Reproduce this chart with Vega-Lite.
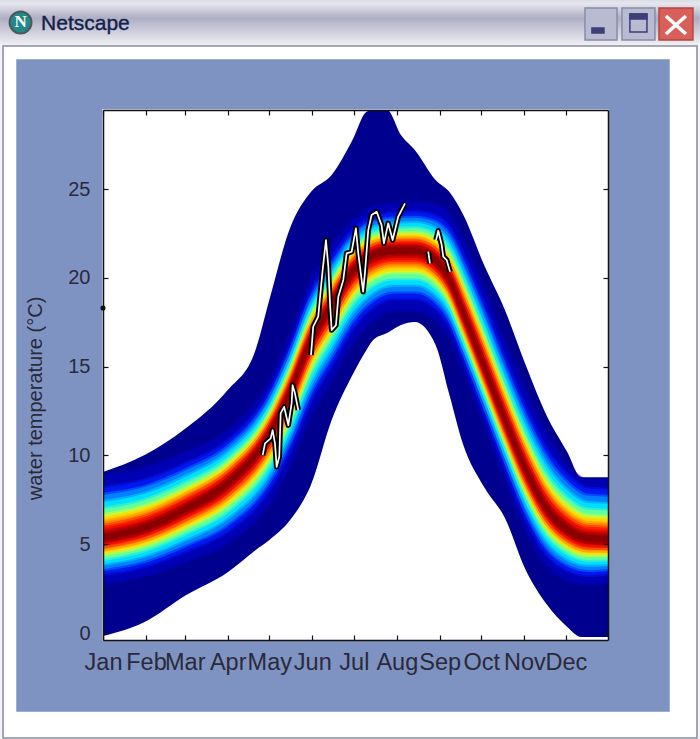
{"$schema":"https://vega.github.io/schema/vega-lite/v6.json","autosize":"none","width":505,"height":530,"padding":{"left":103,"top":110,"right":92,"bottom":99},"background":"#f4f4f8","config":{"axis":{"grid":false,"domainColor":"#111111","domainWidth":1.5,"tickColor":"#111111","tickWidth":1.2,"labelFont":"Liberation Sans","labelFontSize":21,"labelColor":"#2a2a3a","titleFont":"Liberation Sans"},"view":{"stroke":null}},"datasets":{"titlebar":[{"x0":-74.3,"x1":430.7,"y0":35.64,"y1":33.1}],"chrome":[{"part":"client","x0":-72.15,"x1":428.6,"y0":33.05,"y1":-5.91},{"part":"panel","x0":-62.05,"x1":408.4,"y0":32.26,"y1":-4.39},{"part":"plot","x0":0,"x1":364.4,"y0":29.45,"y1":-0.39},{"part":"bmin","x0":347.8,"x1":370.9,"y0":35.19,"y1":33.39},{"part":"bmax","x0":374.5,"x1":398.3,"y0":35.19,"y1":33.39},{"part":"bclose","x0":401.2,"x1":425.7,"y0":35.19,"y1":33.39},{"part":"gmin","x0":352.8,"x1":361.5,"y0":34.07,"y1":33.78},{"part":"gmax","x0":380.2,"x1":392.5,"y0":34.85,"y1":33.84},{"part":"gtop","x0":380.2,"x1":392.5,"y0":34.85,"y1":34.57}],"closex":[{"x0":406.2,"x1":420.6,"y0":34.74,"y1":33.73},{"x0":406.2,"x1":420.6,"y0":33.73,"y1":34.74}],"icon":[{"d":-59.5,"t":34.38,"label":"N"}],"wintitle":[{"d":-44.7,"t":34.3,"label":"Netscape"}],"outer":[{"d":0,"hi":9.07,"lo":-0.17},{"d":30,"hi":10.02,"lo":0.62},{"d":60,"hi":11.54,"lo":2.14},{"d":90,"hi":13.68,"lo":3.43},{"d":110,"hi":15.93,"lo":4.67},{"d":120,"hi":18.75,"lo":5.24},{"d":135,"hi":22.8,"lo":6.36},{"d":150,"hi":24.83,"lo":8.33},{"d":165,"hi":25.79,"lo":11.99},{"d":180,"hi":27.76,"lo":14.53},{"d":190,"hi":29.34,"lo":15.93},{"d":195,"hi":29.45,"lo":16.5},{"d":205,"hi":29.45,"lo":16.89},{"d":215,"hi":28.04,"lo":17.34},{"d":225,"hi":27.2,"lo":17.51},{"d":240,"hi":25.51,"lo":16.22},{"d":250,"hi":24.83,"lo":13.4},{"d":260,"hi":23.54,"lo":10.59},{"d":275,"hi":20.72,"lo":8.22},{"d":290,"hi":18.19,"lo":6.48},{"d":305,"hi":15.09,"lo":3.55},{"d":320,"hi":12.27,"lo":1.63},{"d":335,"hi":10.19,"lo":0.34},{"d":345,"hi":8.78,"lo":-0.22},{"d":364.4,"hi":8.78,"lo":-0.22}],"bands":[
{"d":0,"lev":"m","hi":8.88,"lo":2.81},{"d":0,"lev":"k","hi":8.17,"lo":3.32},{"d":0,"lev":"j","hi":7.78,"lo":3.6},{"d":0,"lev":"i","hi":7.38,"lo":3.89},{"d":0,"lev":"h","hi":6.99,"lo":4.17},{"d":0,"lev":"g","hi":6.65,"lo":4.42},{"d":0,"lev":"e","hi":6.48,"lo":4.54},{"d":0,"lev":"d","hi":6.25,"lo":4.7},{"d":0,"lev":"c","hi":6.03,"lo":4.86},{"d":0,"lev":"b","hi":5.8,"lo":5.03},{"d":0,"lev":"a","hi":5.58,"lo":5.19},
{"d":30,"lev":"m","hi":9.28,"lo":3.23},{"d":30,"lev":"k","hi":8.6,"lo":3.76},{"d":30,"lev":"j","hi":8.22,"lo":4.06},{"d":30,"lev":"i","hi":7.84,"lo":4.36},{"d":30,"lev":"h","hi":7.47,"lo":4.66},{"d":30,"lev":"g","hi":7.14,"lo":4.92},{"d":30,"lev":"e","hi":6.98,"lo":5.04},{"d":30,"lev":"d","hi":6.76,"lo":5.22},{"d":30,"lev":"c","hi":6.55,"lo":5.39},{"d":30,"lev":"b","hi":6.33,"lo":5.56},{"d":30,"lev":"a","hi":6.12,"lo":5.73},
{"d":60,"lev":"m","hi":10.16,"lo":4.05},{"d":60,"lev":"k","hi":9.53,"lo":4.64},{"d":60,"lev":"j","hi":9.18,"lo":4.97},{"d":60,"lev":"i","hi":8.82,"lo":5.3},{"d":60,"lev":"h","hi":8.47,"lo":5.63},{"d":60,"lev":"g","hi":8.16,"lo":5.91},{"d":60,"lev":"e","hi":8.01,"lo":6.06},{"d":60,"lev":"d","hi":7.81,"lo":6.24},{"d":60,"lev":"c","hi":7.61,"lo":6.43},{"d":60,"lev":"b","hi":7.4,"lo":6.62},{"d":60,"lev":"a","hi":7.2,"lo":6.81},
{"d":90,"lev":"m","hi":11.4,"lo":5.08},{"d":90,"lev":"k","hi":10.81,"lo":5.75},{"d":90,"lev":"j","hi":10.48,"lo":6.13},{"d":90,"lev":"i","hi":10.15,"lo":6.51},{"d":90,"lev":"h","hi":9.82,"lo":6.88},{"d":90,"lev":"g","hi":9.54,"lo":7.21},{"d":90,"lev":"e","hi":9.39,"lo":7.37},{"d":90,"lev":"d","hi":9.21,"lo":7.59},{"d":90,"lev":"c","hi":9.02,"lo":7.8},{"d":90,"lev":"b","hi":8.83,"lo":8.02},{"d":90,"lev":"a","hi":8.64,"lo":8.23},
{"d":120,"lev":"m","hi":14.15,"lo":7.33},{"d":120,"lev":"k","hi":13.56,"lo":8.1},{"d":120,"lev":"j","hi":13.23,"lo":8.53},{"d":120,"lev":"i","hi":12.9,"lo":8.97},{"d":120,"lev":"h","hi":12.57,"lo":9.4},{"d":120,"lev":"g","hi":12.29,"lo":9.77},{"d":120,"lev":"e","hi":12.14,"lo":9.96},{"d":120,"lev":"d","hi":11.96,"lo":10.21},{"d":120,"lev":"c","hi":11.77,"lo":10.46},{"d":120,"lev":"b","hi":11.58,"lo":10.7},{"d":120,"lev":"a","hi":11.39,"lo":10.95},
{"d":135,"lev":"m","hi":16.76,"lo":9.51},{"d":135,"lev":"k","hi":16.13,"lo":10.33},{"d":135,"lev":"j","hi":15.78,"lo":10.79},{"d":135,"lev":"i","hi":15.42,"lo":11.25},{"d":135,"lev":"h","hi":15.07,"lo":11.7},{"d":135,"lev":"g","hi":14.76,"lo":12.1},{"d":135,"lev":"e","hi":14.61,"lo":12.29},{"d":135,"lev":"d","hi":14.41,"lo":12.55},{"d":135,"lev":"c","hi":14.21,"lo":12.82},{"d":135,"lev":"b","hi":14.0,"lo":13.08},{"d":135,"lev":"a","hi":13.8,"lo":13.34},
{"d":150,"lev":"m","hi":19.88,"lo":12.28},{"d":150,"lev":"k","hi":19.2,"lo":13.12},{"d":150,"lev":"j","hi":18.82,"lo":13.59},{"d":150,"lev":"i","hi":18.44,"lo":14.07},{"d":150,"lev":"h","hi":18.07,"lo":14.54},{"d":150,"lev":"g","hi":17.74,"lo":14.95},{"d":150,"lev":"e","hi":17.58,"lo":15.15},{"d":150,"lev":"d","hi":17.36,"lo":15.42},{"d":150,"lev":"c","hi":17.15,"lo":15.69},{"d":150,"lev":"b","hi":16.93,"lo":15.96},{"d":150,"lev":"a","hi":16.72,"lo":16.23},
{"d":165,"lev":"m","hi":21.74,"lo":14.28},{"d":165,"lev":"k","hi":21.09,"lo":15.12},{"d":165,"lev":"j","hi":20.73,"lo":15.59},{"d":165,"lev":"i","hi":20.36,"lo":16.07},{"d":165,"lev":"h","hi":20.0,"lo":16.54},{"d":165,"lev":"g","hi":19.69,"lo":16.95},{"d":165,"lev":"e","hi":19.54,"lo":17.15},{"d":165,"lev":"d","hi":19.33,"lo":17.42},{"d":165,"lev":"c","hi":19.12,"lo":17.69},{"d":165,"lev":"b","hi":18.91,"lo":17.96},{"d":165,"lev":"a","hi":18.71,"lo":18.23},
{"d":180,"lev":"m","hi":23.21,"lo":16.31},{"d":180,"lev":"k","hi":22.65,"lo":17.13},{"d":180,"lev":"j","hi":22.34,"lo":17.59},{"d":180,"lev":"i","hi":22.02,"lo":18.05},{"d":180,"lev":"h","hi":21.71,"lo":18.5},{"d":180,"lev":"g","hi":21.44,"lo":18.9},{"d":180,"lev":"e","hi":21.3,"lo":19.09},{"d":180,"lev":"d","hi":21.12,"lo":19.35},{"d":180,"lev":"c","hi":20.94,"lo":19.62},{"d":180,"lev":"b","hi":20.76,"lo":19.88},{"d":180,"lev":"a","hi":20.58,"lo":20.14},
{"d":195,"lev":"m","hi":23.98,"lo":17.64},{"d":195,"lev":"k","hi":23.44,"lo":18.37},{"d":195,"lev":"j","hi":23.14,"lo":18.78},{"d":195,"lev":"i","hi":22.84,"lo":19.19},{"d":195,"lev":"h","hi":22.54,"lo":19.6},{"d":195,"lev":"g","hi":22.28,"lo":19.95},{"d":195,"lev":"e","hi":22.16,"lo":20.13},{"d":195,"lev":"d","hi":21.98,"lo":20.36},{"d":195,"lev":"c","hi":21.81,"lo":20.6},{"d":195,"lev":"b","hi":21.64,"lo":20.83},{"d":195,"lev":"a","hi":21.47,"lo":21.07},
{"d":210,"lev":"m","hi":24.15,"lo":18.18},{"d":210,"lev":"k","hi":23.63,"lo":18.85},{"d":210,"lev":"j","hi":23.34,"lo":19.23},{"d":210,"lev":"i","hi":23.05,"lo":19.61},{"d":210,"lev":"h","hi":22.76,"lo":19.98},{"d":210,"lev":"g","hi":22.51,"lo":20.31},{"d":210,"lev":"e","hi":22.38,"lo":20.47},{"d":210,"lev":"d","hi":22.22,"lo":20.69},{"d":210,"lev":"c","hi":22.05,"lo":20.9},{"d":210,"lev":"b","hi":21.88,"lo":21.12},{"d":210,"lev":"a","hi":21.72,"lo":21.33},
{"d":225,"lev":"m","hi":24.23,"lo":18.18},{"d":225,"lev":"k","hi":23.69,"lo":18.85},{"d":225,"lev":"j","hi":23.39,"lo":19.23},{"d":225,"lev":"i","hi":23.09,"lo":19.61},{"d":225,"lev":"h","hi":22.79,"lo":19.98},{"d":225,"lev":"g","hi":22.53,"lo":20.31},{"d":225,"lev":"e","hi":22.41,"lo":20.47},{"d":225,"lev":"d","hi":22.23,"lo":20.69},{"d":225,"lev":"c","hi":22.06,"lo":20.9},{"d":225,"lev":"b","hi":21.89,"lo":21.12},{"d":225,"lev":"a","hi":21.72,"lo":21.33},
{"d":240,"lev":"m","hi":24.1,"lo":17.63},{"d":240,"lev":"k","hi":23.48,"lo":18.3},{"d":240,"lev":"j","hi":23.13,"lo":18.68},{"d":240,"lev":"i","hi":22.79,"lo":19.06},{"d":240,"lev":"h","hi":22.44,"lo":19.43},{"d":240,"lev":"g","hi":22.14,"lo":19.76},{"d":240,"lev":"e","hi":21.99,"lo":19.92},{"d":240,"lev":"d","hi":21.79,"lo":20.14},{"d":240,"lev":"c","hi":21.6,"lo":20.35},{"d":240,"lev":"b","hi":21.4,"lo":20.57},{"d":240,"lev":"a","hi":21.2,"lo":20.78},
{"d":250,"lev":"m","hi":23.56,"lo":16.66},{"d":250,"lev":"k","hi":22.83,"lo":17.31},{"d":250,"lev":"j","hi":22.42,"lo":17.67},{"d":250,"lev":"i","hi":22.01,"lo":18.04},{"d":250,"lev":"h","hi":21.6,"lo":18.4},{"d":250,"lev":"g","hi":21.25,"lo":18.71},{"d":250,"lev":"e","hi":21.07,"lo":18.86},{"d":250,"lev":"d","hi":20.84,"lo":19.07},{"d":250,"lev":"c","hi":20.6,"lo":19.28},{"d":250,"lev":"b","hi":20.37,"lo":19.49},{"d":250,"lev":"a","hi":20.13,"lo":19.69},
{"d":260,"lev":"m","hi":22.09,"lo":14.84},{"d":260,"lev":"k","hi":21.27,"lo":15.47},{"d":260,"lev":"j","hi":20.81,"lo":15.82},{"d":260,"lev":"i","hi":20.35,"lo":16.18},{"d":260,"lev":"h","hi":19.9,"lo":16.53},{"d":260,"lev":"g","hi":19.5,"lo":16.84},{"d":260,"lev":"e","hi":19.31,"lo":16.99},{"d":260,"lev":"d","hi":19.05,"lo":17.19},{"d":260,"lev":"c","hi":18.78,"lo":17.39},{"d":260,"lev":"b","hi":18.52,"lo":17.6},{"d":260,"lev":"a","hi":18.26,"lo":17.8},
{"d":275,"lev":"m","hi":19.36,"lo":11.84},{"d":275,"lev":"k","hi":18.49,"lo":12.47},{"d":275,"lev":"j","hi":18.0,"lo":12.82},{"d":275,"lev":"i","hi":17.51,"lo":13.18},{"d":275,"lev":"h","hi":17.02,"lo":13.53},{"d":275,"lev":"g","hi":16.61,"lo":13.84},{"d":275,"lev":"e","hi":16.4,"lo":13.99},{"d":275,"lev":"d","hi":16.12,"lo":14.19},{"d":275,"lev":"c","hi":15.84,"lo":14.39},{"d":275,"lev":"b","hi":15.56,"lo":14.6},{"d":275,"lev":"a","hi":15.28,"lo":14.8},
{"d":290,"lev":"m","hi":16.36,"lo":8.76},{"d":290,"lev":"k","hi":15.49,"lo":9.41},{"d":290,"lev":"j","hi":15.0,"lo":9.77},{"d":290,"lev":"i","hi":14.51,"lo":10.14},{"d":290,"lev":"h","hi":14.02,"lo":10.5},{"d":290,"lev":"g","hi":13.61,"lo":10.81},{"d":290,"lev":"e","hi":13.4,"lo":10.96},{"d":290,"lev":"d","hi":13.12,"lo":11.17},{"d":290,"lev":"c","hi":12.84,"lo":11.38},{"d":290,"lev":"b","hi":12.56,"lo":11.59},{"d":290,"lev":"a","hi":12.28,"lo":11.79},
{"d":305,"lev":"m","hi":13.56,"lo":5.83},{"d":305,"lev":"k","hi":12.69,"lo":6.5},{"d":305,"lev":"j","hi":12.2,"lo":6.88},{"d":305,"lev":"i","hi":11.71,"lo":7.26},{"d":305,"lev":"h","hi":11.22,"lo":7.63},{"d":305,"lev":"g","hi":10.81,"lo":7.96},{"d":305,"lev":"e","hi":10.6,"lo":8.12},{"d":305,"lev":"d","hi":10.32,"lo":8.34},{"d":305,"lev":"c","hi":10.04,"lo":8.55},{"d":305,"lev":"b","hi":9.76,"lo":8.77},{"d":305,"lev":"a","hi":9.48,"lo":8.98},
{"d":320,"lev":"m","hi":11.23,"lo":3.84},{"d":320,"lev":"k","hi":10.38,"lo":4.47},{"d":320,"lev":"j","hi":9.91,"lo":4.82},{"d":320,"lev":"i","hi":9.43,"lo":5.18},{"d":320,"lev":"h","hi":8.96,"lo":5.53},{"d":320,"lev":"g","hi":8.55,"lo":5.84},{"d":320,"lev":"e","hi":8.35,"lo":5.99},{"d":320,"lev":"d","hi":8.08,"lo":6.19},{"d":320,"lev":"c","hi":7.81,"lo":6.39},{"d":320,"lev":"b","hi":7.54,"lo":6.6},{"d":320,"lev":"a","hi":7.27,"lo":6.8},
{"d":335,"lev":"m","hi":9.4,"lo":2.99},{"d":335,"lev":"k","hi":8.9,"lo":3.55},{"d":335,"lev":"j","hi":8.47,"lo":3.87},{"d":335,"lev":"i","hi":8.03,"lo":4.18},{"d":335,"lev":"h","hi":7.6,"lo":4.5},{"d":335,"lev":"g","hi":7.23,"lo":4.77},{"d":335,"lev":"e","hi":7.04,"lo":4.9},{"d":335,"lev":"d","hi":6.79,"lo":5.08},{"d":335,"lev":"c","hi":6.54,"lo":5.26},{"d":335,"lev":"b","hi":6.3,"lo":5.44},{"d":335,"lev":"a","hi":6.05,"lo":5.62},
{"d":350,"lev":"m","hi":8.6,"lo":2.76},{"d":350,"lev":"k","hi":8.12,"lo":3.27},{"d":350,"lev":"j","hi":7.73,"lo":3.55},{"d":350,"lev":"i","hi":7.33,"lo":3.84},{"d":350,"lev":"h","hi":6.94,"lo":4.12},{"d":350,"lev":"g","hi":6.6,"lo":4.37},{"d":350,"lev":"e","hi":6.43,"lo":4.49},{"d":350,"lev":"d","hi":6.2,"lo":4.65},{"d":350,"lev":"c","hi":5.98,"lo":4.81},{"d":350,"lev":"b","hi":5.75,"lo":4.98},{"d":350,"lev":"a","hi":5.53,"lo":5.14},
{"d":364.4,"lev":"m","hi":8.6,"lo":2.86},{"d":364.4,"lev":"k","hi":8.07,"lo":3.34},{"d":364.4,"lev":"j","hi":7.68,"lo":3.61},{"d":364.4,"lev":"i","hi":7.28,"lo":3.87},{"d":364.4,"lev":"h","hi":6.89,"lo":4.14},{"d":364.4,"lev":"g","hi":6.55,"lo":4.37},{"d":364.4,"lev":"e","hi":6.38,"lo":4.49},{"d":364.4,"lev":"d","hi":6.15,"lo":4.64},{"d":364.4,"lev":"c","hi":5.93,"lo":4.79},{"d":364.4,"lev":"b","hi":5.7,"lo":4.94},{"d":364.4,"lev":"a","hi":5.48,"lo":5.1}
],"obs":[
{"s":1,"d":115.2,"t":10.02},{"s":1,"d":116.9,"t":10.68},{"s":1,"d":121.0,"t":10.96},{"s":1,"d":122.4,"t":11.43},{"s":1,"d":124.1,"t":10.68},{"s":1,"d":125.3,"t":9.36},{"s":1,"d":127.2,"t":9.93},{"s":1,"d":128.2,"t":12.37},{"s":1,"d":130.7,"t":12.74},{"s":1,"d":133.7,"t":11.71},{"s":1,"d":136.1,"t":12.93},{"s":1,"d":136.8,"t":13.96},{"s":1,"d":138.5,"t":13.5},{"s":1,"d":140.9,"t":12.56},
{"s":2,"d":150.1,"t":15.65},{"s":2,"d":151.7,"t":17.25},{"s":2,"d":155.3,"t":17.81},{"s":2,"d":157.1,"t":19.31},{"s":2,"d":158.5,"t":20.44},{"s":2,"d":160.9,"t":22.13},{"s":2,"d":162.6,"t":20.63},{"s":2,"d":163.8,"t":18.56},{"s":2,"d":165.0,"t":17.06},{"s":2,"d":168.1,"t":17.34},{"s":2,"d":169.8,"t":18.94},{"s":2,"d":173.4,"t":19.88},{"s":2,"d":175.8,"t":21.38},{"s":2,"d":179.4,"t":21.47},{"s":2,"d":182.5,"t":22.79},{"s":2,"d":184.2,"t":21.38},{"s":2,"d":187.7,"t":19.22},{"s":2,"d":189.0,"t":20.25},{"s":2,"d":191.4,"t":22.69},{"s":2,"d":193.8,"t":23.54},{"s":2,"d":197.5,"t":23.72},{"s":2,"d":201.0,"t":22.97},{"s":2,"d":202.7,"t":21.94},{"s":2,"d":205.8,"t":23.07},{"s":2,"d":209.0,"t":22.13},{"s":2,"d":213.0,"t":23.44},{"s":2,"d":217.9,"t":24.19},
{"s":3,"d":234.7,"t":21.47},{"s":3,"d":235.9,"t":20.82},
{"s":4,"d":240.3,"t":22.13},{"s":4,"d":241.9,"t":22.65},{"s":4,"d":244.4,"t":21.85},{"s":4,"d":245.5,"t":21.19},{"s":4,"d":248.0,"t":21.0},{"s":4,"d":250.4,"t":20.34}
],"marker":[{"d":0,"t":18.3}]},
"resolve":{"axis":{"x":"independent","y":"independent"},"scale":{"color":"independent","stroke":"independent"}},
"layer":[
{"data":{"name":"titlebar"},"mark":{"type":"rect","color":{"gradient":"linear","x1":0,"y1":0,"x2":0,"y2":1,"stops":[{"offset":0,"color":"#dcdce6"},{"offset":0.08,"color":"#e6e6ee"},{"offset":0.4,"color":"#aeaec4"},{"offset":0.75,"color":"#d4d4e0"},{"offset":1,"color":"#f0f0f4"}]}},"encoding":{"x":{"field":"x0","type":"quantitative","axis":null,"scale":{"domain":[0,364.4],"nice":false,"zero":false}},"x2":{"field":"x1"},"y":{"field":"y0","type":"quantitative","axis":null,"scale":{"domain":[-0.39,29.45],"nice":false,"zero":false}},"y2":{"field":"y1"}}},
{"data":{"name":"chrome"},"mark":{"type":"rect","strokeWidth":1.5},"encoding":{"x":{"field":"x0","type":"quantitative","axis":{"orient":"bottom","zindex":1,"title":null,"values":[0,31,59,90,120,151,181,212,243,273,304,334],"tickSize":-5,"labelFontSize":23.5,"labelPadding":15,"labelFlush":false,"labelOverlap":false,"labelExpr":"['Jan','Feb','Mar','Apr','May','Jun','Jul','Aug','Sep','Oct','Nov','Dec'][indexof([0,31,59,90,120,151,181,212,243,273,304,334],datum.value)]"}},"x2":{"field":"x1"},"y":{"field":"y0","type":"quantitative","axis":{"orient":"left","zindex":1,"title":"water temperature (°C)","titleFontSize":20,"titleFontWeight":"normal","titleColor":"#2a2a3a","titleX":-58,"titleY":288,"values":[0,5,10,15,20,25],"tickSize":-5,"labelFontSize":20,"labelPadding":18,"labelFlush":false,"labelOverlap":false}},"y2":{"field":"y1"},"fill":{"field":"part","type":"nominal","legend":null,"scale":{"domain":["client","panel","plot","bmin","bmax","bclose","gmin","gmax","gtop"],"range":["#ffffff","#7f93c2","#ffffff","#b8bbd2","#b8bbd2","#d9605a","#3c3f78","#b8bbd2","#3c3f78"]}},"stroke":{"field":"part","type":"nominal","legend":null,"scale":{"domain":["client","panel","plot","bmin","bmax","bclose","gmin","gmax","gtop"],"range":["#8a8aa2","#7f93c2","#ffffff","#8a8ca8","#8a8ca8","#b5453f","#3c3f78","#3c3f78","#3c3f78"]}}}},
{"data":{"name":"closex"},"mark":{"type":"rule","color":"#ffffff","strokeWidth":3.5},"encoding":{"x":{"field":"x0","type":"quantitative","axis":null},"x2":{"field":"x1"},"y":{"field":"y0","type":"quantitative","axis":null},"y2":{"field":"y1"}}},
{"data":{"name":"icon"},"mark":{"type":"point","filled":true,"size":480,"color":"#1f8a86","stroke":"#50565c","strokeWidth":2,"opacity":1},"encoding":{"x":{"field":"d","type":"quantitative","axis":null},"y":{"field":"t","type":"quantitative","axis":null}}},
{"data":{"name":"icon"},"mark":{"type":"text","font":"Liberation Serif","fontWeight":"bold","fontSize":17,"color":"#ffffff","align":"center","baseline":"middle"},"encoding":{"x":{"field":"d","type":"quantitative","axis":null},"y":{"field":"t","type":"quantitative","axis":null},"text":{"field":"label"}}},
{"data":{"name":"wintitle"},"mark":{"type":"text","font":"Liberation Sans","fontSize":21,"color":"#14224e","stroke":"#14224e","strokeWidth":0.4,"align":"left","baseline":"middle"},"encoding":{"x":{"field":"d","type":"quantitative","axis":null},"y":{"field":"t","type":"quantitative","axis":null},"text":{"field":"label"}}},
{"data":{"name":"outer"},"mark":{"type":"area","color":"#00008f","interpolate":"monotone"},"encoding":{"x":{"field":"d","type":"quantitative","axis":null},"y":{"field":"hi","type":"quantitative","axis":null},"y2":{"field":"lo"}}},
{"data":{"name":"bands"},"mark":{"type":"area","interpolate":"monotone","clip":true,"strokeWidth":4,"strokeOpacity":0.5},"encoding":{"x":{"field":"d","type":"quantitative","axis":null},"y":{"field":"hi","type":"quantitative","axis":null},"y2":{"field":"lo"},"color":{"field":"lev","type":"nominal","legend":null,"scale":{"domain":["m","k","j","i","h","g","e","d","c","b","a"],"range":["#0000b4","#0018f0","#0080ff","#00dfff","#60ffa0","#d0ff30","#ffd000","#ff8000","#ff2000","#d00000","#8a0000"]}},"stroke":{"field":"lev","type":"nominal","legend":null,"scale":{"domain":["m","k","j","i","h","g","e","d","c","b","a"],"range":["#0000b4","#0018f0","#0080ff","#00dfff","#60ffa0","#d0ff30","#ffd000","#ff8000","#ff2000","#d00000","#8a0000"]}}}},
{"data":{"name":"obs"},"mark":{"type":"line","color":"#000000","strokeWidth":5.5,"strokeJoin":"round"},"encoding":{"x":{"field":"d","type":"quantitative","axis":null},"y":{"field":"t","type":"quantitative","axis":null},"detail":{"field":"s"}}},
{"data":{"name":"obs"},"mark":{"type":"line","color":"#ffffff","strokeWidth":1.7,"strokeJoin":"round"},"encoding":{"x":{"field":"d","type":"quantitative","axis":null},"y":{"field":"t","type":"quantitative","axis":null},"detail":{"field":"s"}}},
{"data":{"name":"marker"},"mark":{"type":"point","filled":true,"size":26,"color":"#111111","opacity":1},"encoding":{"x":{"field":"d","type":"quantitative","axis":{"orient":"top","zindex":1,"title":null,"labels":false,"values":[0,31,59,90,120,151,181,212,243,273,304,334],"tickSize":-5}},"y":{"field":"t","type":"quantitative","axis":{"orient":"right","zindex":1,"title":null,"labels":false,"values":[0,5,10,15,20,25],"tickSize":-5}}}}
]}
